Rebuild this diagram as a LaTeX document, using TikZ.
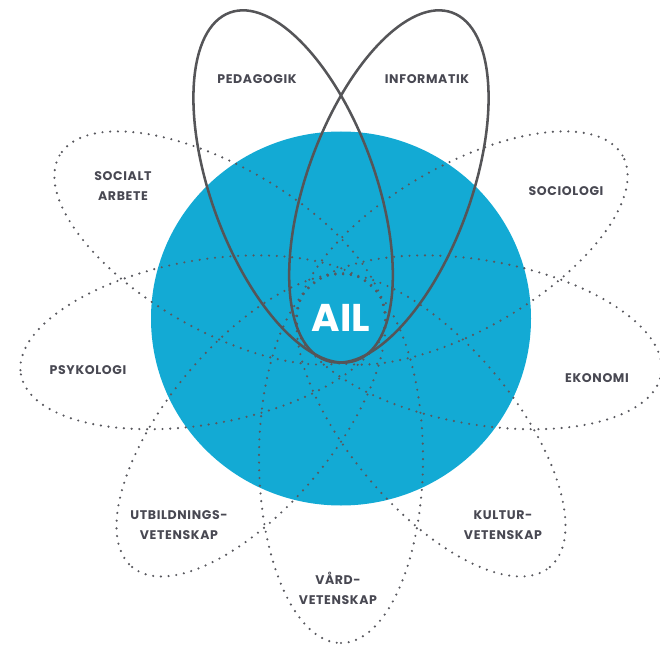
\documentclass[tikz,border=0pt]{standalone}
\usepackage{fontspec}
\setmainfont{Poppins}
\newfontfamily\labfont[LetterSpace=5]{Poppins}
\definecolor{ailblue}{RGB}{19,170,212}
\definecolor{labgrey}{RGB}{72,72,82}
\definecolor{dotgrey}{RGB}{88,88,94}
\definecolor{linegrey}{RGB}{85,85,88}
\begin{document}
\begin{tikzpicture}[x=0.75pt,y=0.75pt,
  dotpetal/.style={draw=dotgrey,line width=1.8pt,line cap=round,dash pattern=on 0pt off 5.8pt},
  solidpetal/.style={draw=linegrey,line width=1.9pt},
  lab/.style={text=labgrey,font=\labfont\bfseries\fontsize{9.4}{15}\selectfont,align=center,inner sep=0pt},
  ail/.style={text=white,font=\bfseries\fontsize{29}{30}\selectfont,inner sep=0pt}]
\useasboundingbox (0,0) rectangle (660,644);
\coordinate (C) at (341,326);
\fill[ailblue] (341,325.5) ellipse [x radius=190, y radius=187];
\foreach \a in {150,190,230,270,310,350,30}
  \draw[dotpetal, shift={(C)}, rotate=\a] (140,0) ellipse [x radius=185, y radius=82];
\foreach \a in {110,70}
  \draw[solidpetal, shift={(C)}, rotate=\a] (140,0) ellipse [x radius=185, y radius=82];
\node[ail] (ail) at (341,326) {AIL};
\node[lab] (ped) at (257,565) {PEDAGOGIK};
\node[lab] (inf) at (427,565) {INFORMATIK};
\node[lab] (soc) at (123,458) {SOCIALT\\ARBETE};
\node[lab] (sog) at (566,453) {SOCIOLOGI};
\node[lab] (psy) at (88,274) {PSYKOLOGI};
\node[lab] (eko) at (597,266) {EKONOMI};
\node[lab] (utb) at (179,119) {UTBILDNINGS-\\VETENSKAP};
\node[lab] (vrd) at (338,56) {VÅRD-\\VETENSKAP};
\node[lab] (kul) at (503,119) {KULTUR-\\VETENSKAP};
\end{tikzpicture}
\end{document}
